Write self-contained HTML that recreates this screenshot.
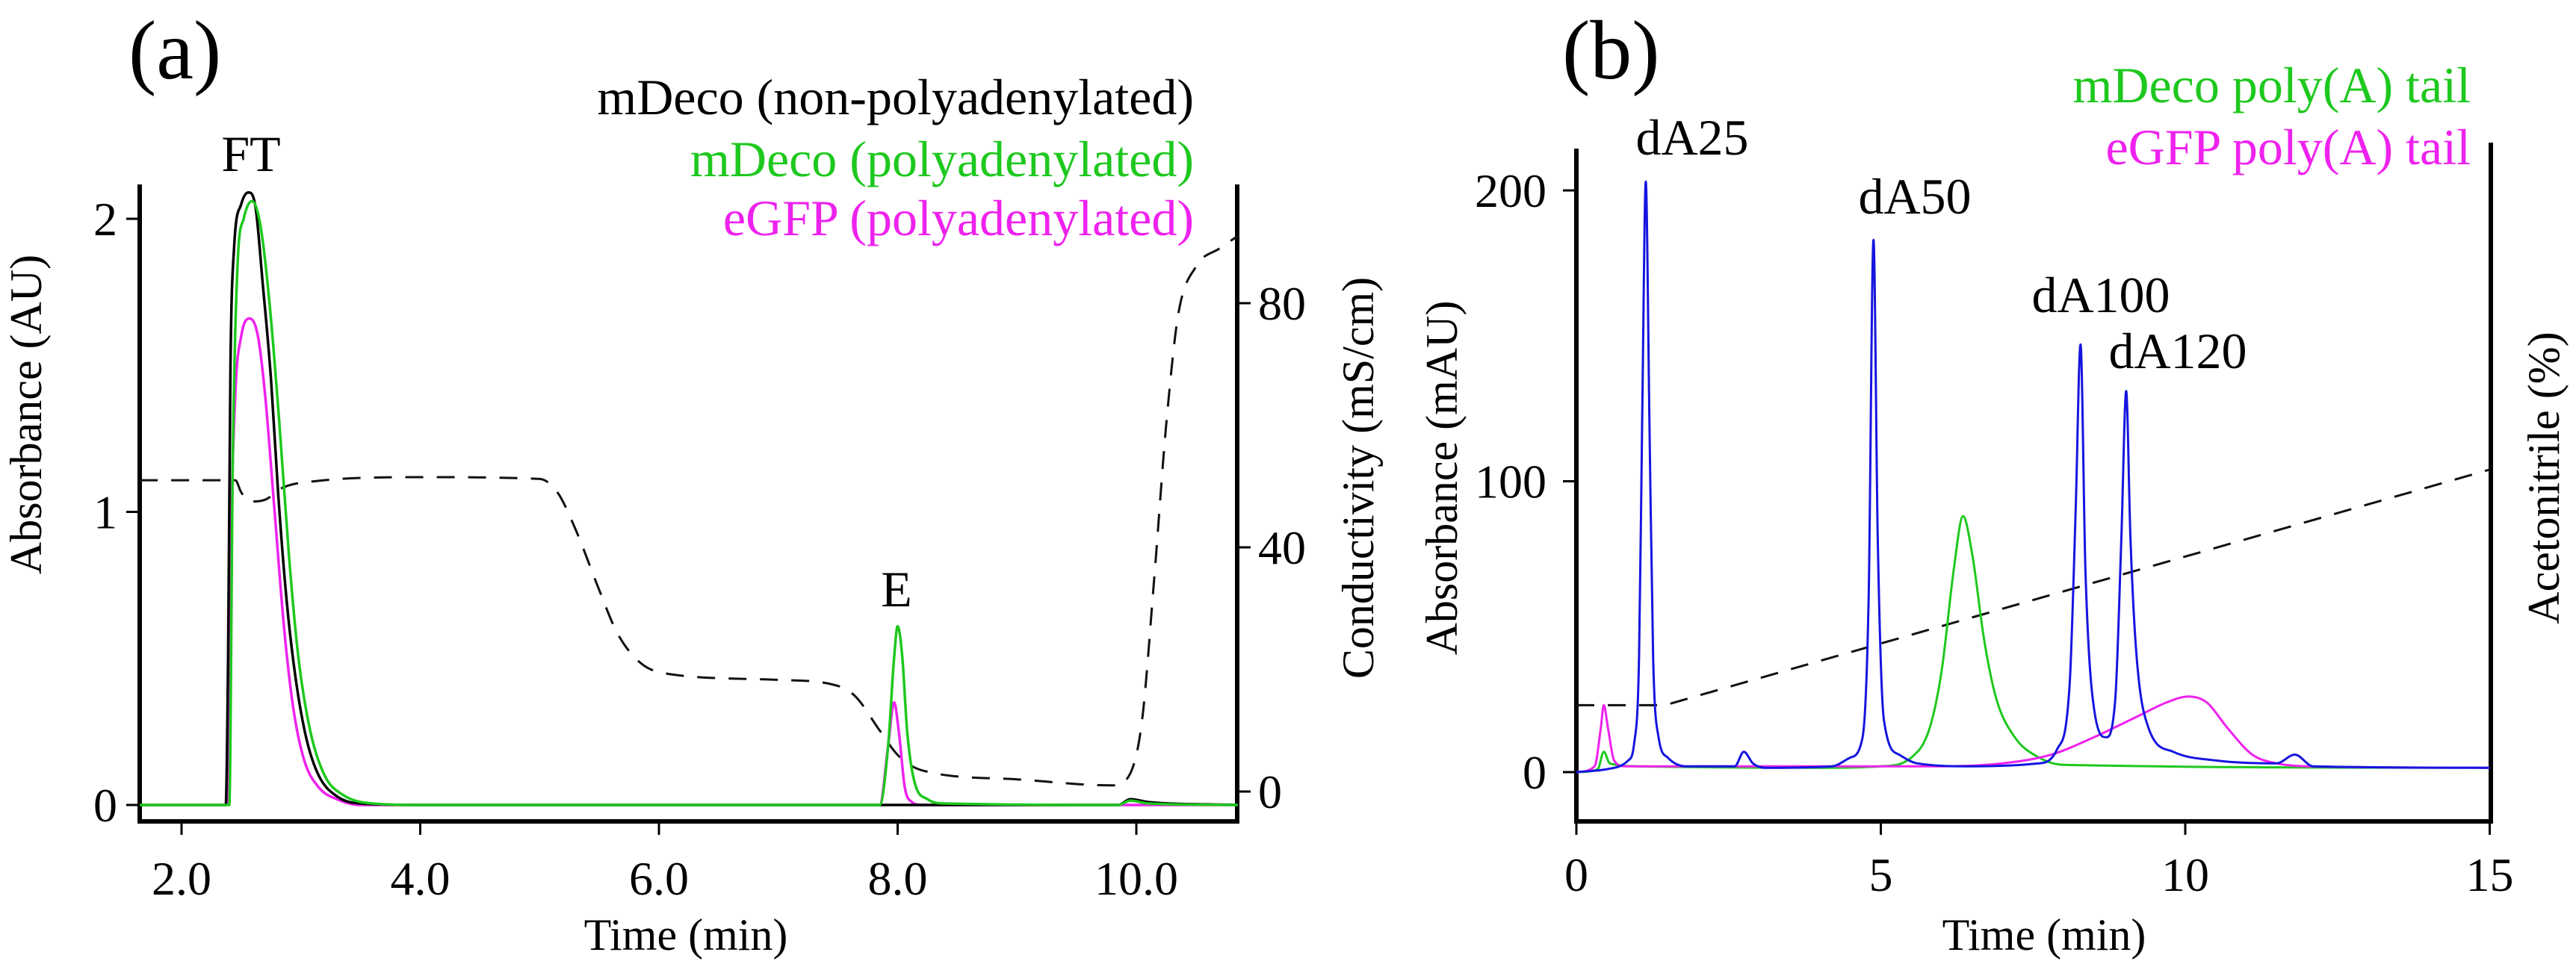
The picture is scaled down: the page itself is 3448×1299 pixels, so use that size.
<!DOCTYPE html>
<html><head><meta charset="utf-8"><style>
html,body{margin:0;padding:0;background:#fff}
svg{display:block;font-family:"Liberation Serif",serif}
</style></head><body>
<svg id="fig" width="3448" height="1299" viewBox="0 0 3448 1299" xmlns="http://www.w3.org/2000/svg">
<g id="pa"></g>
<g id="pb"></g>
</svg>
<script>
// ---------- Panel (a) data ----------
const aXTicks = [2, 4, 6, 8, 10];
const aXTickLabels = ["2.0", "4.0", "6.0", "8.0", "10.0"];
const aYTicks = [0, 1, 2];
const aY2Ticks = [0, 40, 80];
const aBlack = [[1.65,0],[2.37,0],[2.39,0.5],[2.41,1.5],[2.44,1.9],[2.5,2.05],[2.56,2.09],[2.62,2.04],[2.68,1.78],[2.75,1.45],[2.81,1.06],[2.88,0.7],[2.96,0.42],[3.05,0.22],[3.15,0.1],[3.3,0.03],[3.5,0.005],[4,0],[7.8,0],[9.85,0],[9.95,0.02],[10.1,0.01],[10.85,0]];
const aGreen = [[1.65,0],[2.40,0],[2.43,1.2],[2.47,1.85],[2.52,2.0],[2.59,2.06],[2.66,1.98],[2.74,1.7],[2.82,1.3],[2.9,0.85],[2.98,0.5],[3.08,0.25],[3.2,0.1],[3.35,0.035],[3.6,0.005],[4,0],[7.85,0],[7.92,0.2],[7.97,0.5],[8.0,0.61],[8.04,0.5],[8.08,0.25],[8.14,0.08],[8.25,0.02],[8.4,0.005],[9.85,0],[9.95,0.015],[10.1,0.005],[10.85,0]];
const aMagenta = [[2.39,0],[2.41,0.8],[2.45,1.4],[2.5,1.6],[2.57,1.66],[2.64,1.6],[2.7,1.4],[2.78,1.0],[2.86,0.6],[2.94,0.32],[3.03,0.15],[3.15,0.06],[3.3,0.02],[3.5,0],[7.85,0],[7.92,0.2],[7.97,0.35],[8.01,0.25],[8.06,0.06],[8.12,0.01],[8.2,0],[10.85,0]];
const aCond = [[1.65,51],[2.45,51],[2.5,49],[2.58,47.5],[2.7,47.8],[2.85,49.8],[3.1,50.8],[4,51.5],[5.0,51.2],[5.15,49],[5.3,43],[5.5,33],[5.65,26],[5.85,21],[6.1,19.2],[7.0,18.3],[7.5,17.3],[7.65,15.5],[7.85,10],[8.0,6],[8.2,3.5],[9.0,2],[9.8,1],[9.95,3],[10.05,12],[10.15,35],[10.25,60],[10.35,78],[10.5,86],[10.7,89],[10.85,91]];
// ---------- Panel (b) data ----------
const bXTicks = [0, 5, 10, 15];
const bYTicks = [0, 100, 200];
const bBlue = [[0,0],[0.5,1],[0.85,4],[0.95,10],[1.03,40],[1.08,120],[1.14,203],[1.2,120],[1.26,40],[1.35,12],[1.5,5],[1.8,2],[2.6,2],[2.75,7],[2.9,3],[3.1,1.5],[4.2,2],[4.5,5],[4.7,12],[4.8,60],[4.88,183],[4.95,80],[5.05,18],[5.3,6],[5.6,3],[6.5,2],[7.6,3],[7.9,8],[8.1,30],[8.2,90],[8.28,147],[8.36,70],[8.5,22],[8.7,12],[8.85,25],[8.95,80],[9.03,131],[9.1,80],[9.2,40],[9.4,15],[9.8,7],[10.5,4],[11.5,3],[11.8,6],[12.1,2],[15,1.5]];
const bGreen = [[0,0],[0.35,1],[0.45,7],[0.55,3],[1,2],[4,1.5],[5,2],[5.5,5],[5.8,15],[6.0,35],[6.2,70],[6.35,88],[6.5,75],[6.7,45],[6.9,25],[7.2,12],[7.6,5],[8,2.5],[15,1.5]];
const bMagenta = [[0,0],[0.3,2],[0.4,15],[0.45,23],[0.52,15],[0.62,4],[0.8,2],[6.0,2],[7,3],[7.8,6],[8.5,12],[9.2,19],[9.7,24],[10.05,26],[10.35,24],[10.7,15],[11.1,6],[11.5,3],[12,2],[15,1.5]];
const bGradient = [[0,23],[1.45,23],[15,104]];

const NS = "http://www.w3.org/2000/svg";
function mk(parent, tag, attrs, text) {
  const e = document.createElementNS(NS, tag);
  for (const k in attrs) e.setAttribute(k, attrs[k]);
  if (text !== undefined) e.textContent = text;
  parent.appendChild(e);
  return e;
}
function lineD(pts, sx, sy) {
  return pts.map((p, i) => (i ? "L" : "M") + sx(p[0]).toFixed(1) + "," + sy(p[1]).toFixed(1)).join("");
}
// monotone cubic (Fritsch-Carlson) path in pixel space
function pathD(pts, sx, sy) {
  const P = pts.map(p => [sx(p[0]), sy(p[1])]);
  const n = P.length;
  if (n < 3) return lineD(pts, sx, sy);
  const d = [], m = new Array(n);
  for (let i = 0; i < n - 1; i++) d.push((P[i+1][1] - P[i][1]) / (P[i+1][0] - P[i][0]));
  m[0] = d[0]; m[n-1] = d[n-2];
  for (let i = 1; i < n - 1; i++) m[i] = (d[i-1] * d[i] <= 0) ? 0 : (d[i-1] + d[i]) / 2;
  for (let i = 0; i < n - 1; i++) {
    if (d[i] === 0) { m[i] = 0; m[i+1] = 0; continue; }
    const a = m[i] / d[i], b = m[i+1] / d[i], s = a*a + b*b;
    if (s > 9) { const t = 3 / Math.sqrt(s); m[i] = t*a*d[i]; m[i+1] = t*b*d[i]; }
  }
  let s = "M" + P[0][0].toFixed(1) + "," + P[0][1].toFixed(1);
  for (let i = 0; i < n - 1; i++) {
    const h = (P[i+1][0] - P[i][0]) / 3;
    s += "C" + (P[i][0]+h).toFixed(1) + "," + (P[i][1]+m[i]*h).toFixed(1) + " " +
         (P[i+1][0]-h).toFixed(1) + "," + (P[i+1][1]-m[i+1]*h).toFixed(1) + " " +
         P[i+1][0].toFixed(1) + "," + P[i+1][1].toFixed(1);
  }
  return s;
}

// ---------- Panel (a) ----------
(function(){
  const g = document.getElementById("pa");
  const L = 187, R = 1656, T = 247, B = 1100;
  const sx = t => 243 + (t - 2) * 159.75;
  const sy = v => 1078 - v * 392.5;
  const sy2 = v => 1060 - v * 8.175;
  let e;
  e = mk(g, "path", {d:`M${L},${T}V${B}H${R}V${T}`, fill:"none", stroke:"#000", "stroke-width":6});
  
  
  aXTicks.forEach((t, i) => {
    const x = sx(t);
    e = mk(g, "line", {x1:x, x2:x, y1:B, y2:B+18, stroke:"#000", "stroke-width":3});
    
    
    e = mk(g, "text", {x:x, y:1198, "font-size":64, "text-anchor":"middle"}, aXTickLabels[i]);
    
    
  });
  aYTicks.forEach(v => {
    const y = sy(v);
    e = mk(g, "line", {x1:L-18, x2:L, y1:y, y2:y, stroke:"#000", "stroke-width":3});
    
    
    e = mk(g, "text", {x:L-30, y:y+22, "font-size":64, "text-anchor":"end"}, String(v));
    
    
  });
  aY2Ticks.forEach(v => {
    const y = sy2(v);
    e = mk(g, "line", {x1:R, x2:R+18, y1:y, y2:y, stroke:"#000", "stroke-width":3});
    
    
    e = mk(g, "text", {x:R+28, y:y+22, "font-size":64, "text-anchor":"start"}, String(v));
    
    
  });
  e = mk(g, "path", {d:pathD(aCond, sx, sy2), fill:"none", stroke:"#111", "stroke-width":3, "stroke-dasharray":"24,18"});
  
  
  e = mk(g, "path", {d:pathD(aMagenta, sx, sy), fill:"none", stroke:"#ee22ee", "stroke-width":3.5});
  
  
  e = mk(g, "path", {d:pathD(aBlack, sx, sy), fill:"none", stroke:"#000", "stroke-width":3.5});
  
  
  e = mk(g, "path", {d:pathD(aGreen, sx, sy), fill:"none", stroke:"#1ec81e", "stroke-width":3.5});
  
  
})();

// ---------- Panel (b) ----------
(function(){
  const g = document.getElementById("pb");
  const L = 2110, R = 3334, T = 199, B = 1100;
  const sx = t => 2110 + t * 81.5;
  const sy = v => 1034 - v * 3.895;
  let e;
  e = mk(g, "path", {d:`M${L},${T}V${B}H${R}V191`, fill:"none", stroke:"#000", "stroke-width":6});
  
  
  bXTicks.forEach(t => {
    const x = sx(t);
    e = mk(g, "line", {x1:x, x2:x, y1:B, y2:B+18, stroke:"#000", "stroke-width":3});
    
    
    e = mk(g, "text", {x:x, y:1193, "font-size":64, "text-anchor":"middle"}, String(t));
    
    
  });
  bYTicks.forEach(v => {
    const y = sy(v);
    e = mk(g, "line", {x1:L-18, x2:L, y1:y, y2:y, stroke:"#000", "stroke-width":3});
    
    
    e = mk(g, "text", {x:L-40, y:y+22, "font-size":64, "text-anchor":"end"}, String(v));
    
    
  });
  e = mk(g, "path", {d:lineD(bGradient, sx, sy), fill:"none", stroke:"#111", "stroke-width":3, "stroke-dasharray":"24,18"});
  
  
  e = mk(g, "path", {d:pathD(bGreen, sx, sy), fill:"none", stroke:"#1ec81e", "stroke-width":3});
  
  
  e = mk(g, "path", {d:pathD(bMagenta, sx, sy), fill:"none", stroke:"#ee22ee", "stroke-width":3});
  
  
  e = mk(g, "path", {d:pathD(bBlue, sx, sy), fill:"none", stroke:"#1515e0", "stroke-width":3});
  
  
})();
</script>
<svg width="3448" height="1299" style="position:absolute;left:0;top:0" font-family="Liberation Serif, serif">
  <text x="172" y="105" font-size="112">(a)</text>
  <text x="2091" y="105" font-size="112">(b)</text>
  <text x="1598" y="153" font-size="68" text-anchor="end" fill="#000">mDeco (non-polyadenylated)</text>
  <text x="1598" y="236" font-size="68" text-anchor="end" fill="#1ec81e">mDeco (polyadenylated)</text>
  <text x="1598" y="315" font-size="68" text-anchor="end" fill="#ee22ee">eGFP (polyadenylated)</text>
  <text x="336" y="229" font-size="68" text-anchor="middle">FT</text>
  <text x="1200" y="812" font-size="68" text-anchor="middle">E</text>
  <text x="918" y="1272" font-size="60" text-anchor="middle">Time (min)</text>
  <text transform="translate(55,555) rotate(-90)" font-size="60" text-anchor="middle">Absorbance (AU)</text>
  <text transform="translate(1838,640) rotate(-90)" font-size="60" text-anchor="middle">Conductivity (mS/cm)</text>
  <text x="3307" y="137" font-size="68" text-anchor="end" fill="#1ec81e">mDeco poly(A) tail</text>
  <text x="3307" y="220" font-size="68" text-anchor="end" fill="#ee22ee">eGFP poly(A) tail</text>
  <text x="2265" y="207" font-size="68" text-anchor="middle">dA25</text>
  <text x="2563" y="286" font-size="68" text-anchor="middle">dA50</text>
  <text x="2812" y="418" font-size="68" text-anchor="middle">dA100</text>
  <text x="2915" y="493" font-size="68" text-anchor="middle">dA120</text>
  <text x="2736" y="1272" font-size="60" text-anchor="middle">Time (min)</text>
  <text transform="translate(1950,640) rotate(-90)" font-size="60" text-anchor="middle">Absorbance (mAU)</text>
  <text transform="translate(3425,640) rotate(-90)" font-size="60" text-anchor="middle">Acetonitrile (%)</text>
</svg>
</body></html>
